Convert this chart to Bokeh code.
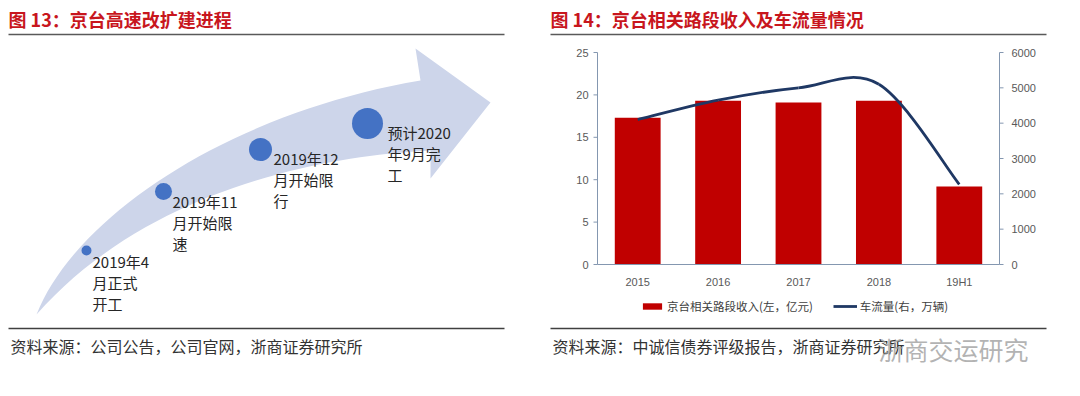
from bokeh.plotting import figure
from bokeh.models import Range1d, Legend, LegendItem
from bokeh.core.properties import value
from bokeh.embed import file_html
from bokeh.resources import INLINE

# ---------------- data ----------------
categories = ["2015", "2016", "2017", "2018", "19H1"]
revenue = [17.3, 19.3, 19.1, 19.3, 9.2]          # 京台相关路段收入 (左, 亿元)
traffic = [4100, 4650, 5000, 5100, 2270]         # 车流量 (右, 万辆)
left_ticks = [0, 5, 10, 15, 20, 25]
right_ticks = [0, 1000, 2000, 3000, 4000, 5000, 6000]
revenue_label = "京台相关路段收入(左，亿元)"
traffic_label = "车流量(右，万辆)"

title_left = "图 13：京台高速改扩建进程"
title_right = "图 14：京台相关路段收入及车流量情况"
source_left = "资料来源：公司公告，公司官网，浙商证券研究所"
source_right = "资料来源：中诚信债券评级报告，浙商证券研究所"
watermark = "浙商交运研究"

milestone_lines = [["2019年4", "月正式", "开工"],
                   ["2019年11", "月开始限", "速"],
                   ["2019年12", "月开始限", "行"],
                   ["预计2020", "年9月完", "工"]]

# ---------------- style / layout ----------------
RED = "#c8161d"
BAR = "#c00000"
NAVY = "#1f3864"
AXC = "#8497b0"
TXT = "#595959"
BAND = "#cdd5ea"
DOT = "#4472c4"
CJK = "Noto Sans CJK SC"
TICKF = "Liberation Sans"

W, H = 1072, 388                      # canvas in page pixels
FL, FR, FT, FB = 597, 999, 52, 264    # chart plot box in page pixels
X0, X1 = -0.5, len(categories) - 0.5  # category axis limits
R0, R1 = left_ticks[0], left_ticks[-1]
T0, T1 = right_ticks[0], right_ticks[-1]

p = figure(width=W, height=H, x_range=Range1d(0, W), y_range=Range1d(H, 0),
           min_border=0, toolbar_location=None, output_backend="svg",
           x_axis_location=None, y_axis_location=None)
p.grid.grid_line_color = None
p.outline_line_color = None
p.background_fill_color = "white"
p.border_fill_color = "white"

# chart scales: category axis and the two value axes placed over the chart box
px_cat = (FR - FL) / (X1 - X0)
px_rev = (FB - FT) / (R1 - R0)
px_flow = (FB - FT) / (T1 - T0)
p.extra_x_ranges = {"cat": Range1d(X0 - FL / px_cat, X0 + (W - FL) / px_cat)}
p.extra_y_ranges = {"rev": Range1d(R0 - (H - FB) / px_rev, R0 + FB / px_rev),
                    "flow": Range1d(T0 - (H - FB) / px_flow, T0 + FB / px_flow)}

# ---------------- titles & rules ----------------
p.text(x=[8, 550], y=[18, 18], text=[title_left, title_right],
       text_font=value(CJK), text_font_style="bold", text_font_size="18px",
       text_color=RED, text_baseline="middle", text_align="left")
p.segment(x0=[8, 550], y0=[34, 34], x1=[504, 1046], y1=[34, 34],
          line_color="#595959", line_width=1.5)
p.segment(x0=[8, 550], y0=[328, 328], x1=[504, 1046], y1=[328, 328],
          line_color="#404040", line_width=1.5)

# ---------------- left diagram ----------------


def cubic(p0, c1, c2, p3, n=40):
    pts = []
    for k in range(n):
        t = k / (n - 1.0)
        a, b, c, d = (1 - t) ** 3, 3 * (1 - t) ** 2 * t, 3 * (1 - t) * t ** 2, t ** 3
        pts.append((a * p0[0] + b * c1[0] + c * c2[0] + d * p3[0],
                    a * p0[1] + b * c1[1] + c * c2[1] + d * p3[1]))
    return pts


tail = (36, 314)
outline = (cubic(tail, (75, 215), (230, 112), (420, 80))
           + [(415, 48), (490, 102), (430, 178)]
           + cubic((430, 150), (330, 155), (150, 185), tail))
p.patch(x=[q[0] for q in outline], y=[q[1] for q in outline], fill_color=BAND, line_color=None)

dot_x = [86, 163, 260, 367]
dot_y = [250, 191, 149, 123]
dot_d = [10, 17, 23, 31]
p.scatter(x=dot_x, y=dot_y, size=dot_d, marker="circle", fill_color=DOT, line_color=None)

text_x = [92, 172, 273, 387]
text_y = [261, 201, 158, 132]
tx, ty, tt = [], [], []
for lines, x, y in zip(milestone_lines, text_x, text_y):
    for k, s in enumerate(lines):
        tx.append(x)
        ty.append(y + k * 21)
        tt.append(s)
p.text(x=tx, y=ty, text=tt, text_font=value(CJK), text_font_size="15px",
       text_color="#262626", text_baseline="middle", text_align="left")

# ---------------- sources ----------------
p.text(x=[10, 552], y=[345, 345], text=[source_left, source_right],
       text_font=value(CJK), text_font_size="16px", text_color="#333333",
       text_baseline="middle", text_align="left")
p.text(x=[878], y=[348], text=[watermark], text_font=value(CJK), text_font_size="25px",
       text_color="#9a9a9a", text_alpha=0.75, text_baseline="middle", text_align="left")

# ---------------- right chart ----------------
xs = list(range(len(categories)))
bars = p.vbar(x=xs, top=revenue, width=0.57, fill_color=BAR, line_color=None,
              x_range_name="cat", y_range_name="rev")

# smoothed traffic line (cubic Bezier segments through the data points)
n = len(traffic)
bx0, by0, bx1, by1, cx0, cy0, cx1, cy1 = ([] for _ in range(8))
for i in range(n - 1):
    a, b = max(i - 1, 0), min(i + 2, n - 1)
    bx0.append(float(xs[i])); by0.append(float(traffic[i]))
    bx1.append(float(xs[i + 1])); by1.append(float(traffic[i + 1]))
    cx0.append(xs[i] + (xs[i + 1] - xs[a]) / 6.0)
    cy0.append(traffic[i] + (traffic[i + 1] - traffic[a]) / 6.0)
    cx1.append(xs[i + 1] - (xs[b] - xs[i]) / 6.0)
    cy1.append(traffic[i + 1] - (traffic[b] - traffic[i]) / 6.0)
curve = p.bezier(x0=bx0, y0=by0, x1=bx1, y1=by1, cx0=cx0, cy0=cy0, cx1=cx1, cy1=cy1,
                 line_color=NAVY, line_width=2.8, x_range_name="cat", y_range_name="flow")
line_proxy = p.line(x=[], y=[], line_color=NAVY, line_width=2.8,
                    x_range_name="cat", y_range_name="flow")

# axes: lines, ticks and labels placed through the chart scales
tick_len = 4 / px_cat
p.segment(x0=[X0, X0], y0=[R0, R0], x1=[X0, X1], y1=[R1, R0], line_color=AXC, line_width=1,
          x_range_name="cat", y_range_name="rev")
p.segment(x0=[X1], y0=[T0], x1=[X1], y1=[T1], line_color=AXC, line_width=1,
          x_range_name="cat", y_range_name="flow")
p.segment(x0=[X0] * len(left_ticks), y0=left_ticks, x1=[X0 - tick_len] * len(left_ticks),
          y1=left_ticks, line_color=AXC, line_width=1, x_range_name="cat", y_range_name="rev")
p.segment(x0=[X1] * len(right_ticks), y0=right_ticks, x1=[X1 + tick_len] * len(right_ticks),
          y1=right_ticks, line_color=AXC, line_width=1, x_range_name="cat", y_range_name="flow")
p.text(x=[X0] * len(left_ticks), y=left_ticks, text=[str(t) for t in left_ticks],
       x_offset=-9, text_align="right", text_baseline="middle",
       text_font=value(TICKF), text_font_size="11px", text_color=TXT,
       x_range_name="cat", y_range_name="rev")
p.text(x=[X1] * len(right_ticks), y=right_ticks, text=[str(t) for t in right_ticks],
       x_offset=12, text_align="left", text_baseline="middle",
       text_font=value(TICKF), text_font_size="11px", text_color=TXT,
       x_range_name="cat", y_range_name="flow")
p.text(x=xs, y=[R0] * len(xs), text=categories, y_offset=17,
       text_align="center", text_baseline="middle",
       text_font=value(TICKF), text_font_size="11px", text_color=TXT,
       x_range_name="cat", y_range_name="rev")

legend = Legend(items=[LegendItem(label=revenue_label, renderers=[bars]),
                       LegendItem(label=traffic_label, renderers=[curve, line_proxy])],
                orientation="horizontal", location=(640, H - 314),
                margin=0, padding=4, spacing=20, label_standoff=3,
                glyph_width=24, glyph_height=8, label_height=14,
                label_text_font=CJK, label_text_font_size="11.5px", label_text_color="#404040",
                border_line_color=None, background_fill_alpha=0)
p.add_layout(legend)

open("out.html", "w").write(file_html(p, INLINE))
